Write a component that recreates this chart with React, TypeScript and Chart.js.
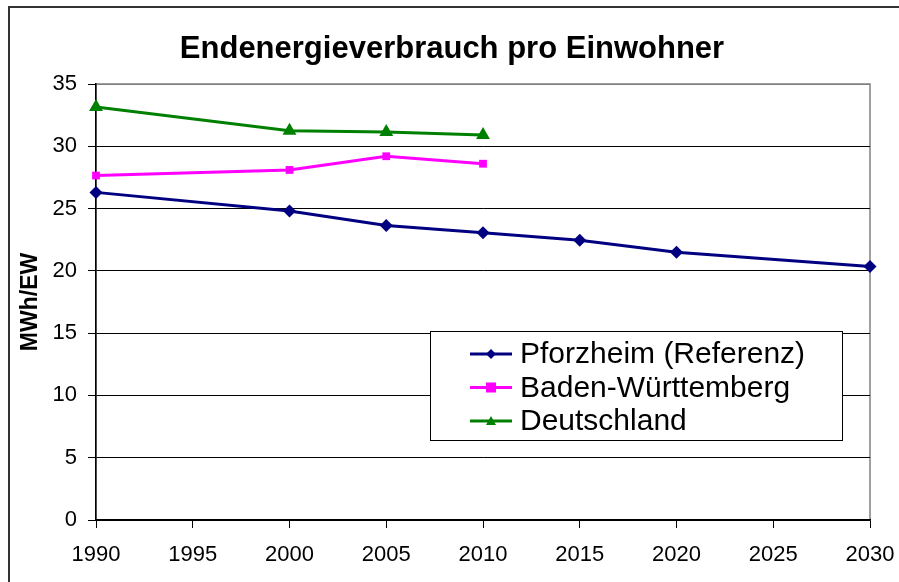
import React, { useEffect, useRef } from 'react';
import { Chart, registerables } from 'chart.js';

Chart.register(...registerables);

const chartTitle = 'Endenergieverbrauch pro Einwohner';
const yAxisTitle = 'MWh/EW';
const yearsPforzheim = [1990, 2000, 2005, 2010, 2015, 2020, 2030];
const pforzheim = [26.3, 24.8, 23.65, 23.05, 22.45, 21.5, 20.35];
const yearsRegion = [1990, 2000, 2005, 2010];
const badenWuerttemberg = [27.65, 28.1, 29.2, 28.6];
const deutschland = [33.15, 31.25, 31.15, 30.9];
const seriesLabels = ['Pforzheim (Referenz)', 'Baden-Württemberg', 'Deutschland'];
const seriesColors = ['#000080', '#FF00FF', '#008000'];
const seriesMarkers = ['rectRot', 'rect', 'triangle'];
const xMin = 1990;
const xMax = 2030;
const xStep = 5;
const yMin = 0;
const yMax = 35;
const yStep = 5;

const FONT = "'Liberation Sans', Arial, Helvetica, sans-serif";

function drawMarker(ctx: CanvasRenderingContext2D, kind: string, x: number, y: number, r: number, color: string) {
  ctx.save();
  ctx.fillStyle = color;
  ctx.beginPath();
  if (kind === 'rectRot') {
    ctx.moveTo(x, y - r);
    ctx.lineTo(x + r, y);
    ctx.lineTo(x, y + r);
    ctx.lineTo(x - r, y);
  } else if (kind === 'rect') {
    ctx.rect(x - r, y - r, 2 * r, 2 * r);
  } else {
    ctx.moveTo(x, y - r);
    ctx.lineTo(x + r, y + r * 0.8);
    ctx.lineTo(x - r, y + r * 0.8);
  }
  ctx.closePath();
  ctx.fill();
  ctx.restore();
}

const decorPlugin = {
  id: 'decor',
  beforeDraw(chart: any) {
    const ctx = chart.ctx as CanvasRenderingContext2D;
    const { left, right, top, bottom } = chart.chartArea;
    ctx.save();
    ctx.fillStyle = '#ffffff';
    ctx.fillRect(0, 0, chart.width, chart.height);
    // outer chart border
    ctx.fillStyle = '#333333';
    ctx.fillRect(8, 6, 2, chart.height);
    ctx.fillRect(8, 6, chart.width, 2);
    // plot area border
    ctx.strokeStyle = '#808080';
    ctx.lineWidth = 1.5;
    ctx.strokeRect(left, top, right - left, bottom - top);
    ctx.restore();
  },
  afterDraw(chart: any) {
    const ctx = chart.ctx as CanvasRenderingContext2D;
    const { top, bottom } = chart.chartArea;
    ctx.save();
    // title
    ctx.fillStyle = '#000';
    ctx.font = `bold 31px ${FONT}`;
    ctx.textAlign = 'center';
    ctx.textBaseline = 'alphabetic';
    ctx.fillText(chartTitle, 452, 58);
    // y axis title
    ctx.save();
    ctx.translate(37, (top + bottom) / 2);
    ctx.rotate(-Math.PI / 2);
    ctx.font = `bold 23px ${FONT}`;
    ctx.textAlign = 'center';
    ctx.textBaseline = 'alphabetic';
    ctx.fillText(yAxisTitle, 0, 0);
    ctx.restore();
    // legend
    const bx = 430, by = 331, bw = 412, bh = 109;
    ctx.fillStyle = '#fff';
    ctx.fillRect(bx, by, bw, bh);
    ctx.strokeStyle = '#000';
    ctx.lineWidth = 1;
    ctx.strokeRect(bx + 0.5, by + 0.5, bw, bh);
    ctx.font = `30px ${FONT}`;
    ctx.textAlign = 'left';
    ctx.textBaseline = 'middle';
    seriesLabels.forEach((label, i) => {
      const y = 354 + i * 33.5;
      ctx.strokeStyle = seriesColors[i];
      ctx.lineWidth = 3;
      ctx.beginPath();
      ctx.moveTo(470, y);
      ctx.lineTo(512, y);
      ctx.stroke();
      drawMarker(ctx, seriesMarkers[i], 491, y, 5, seriesColors[i]);
      ctx.fillStyle = '#000';
      ctx.fillText(label, 520, y + 1);
    });
    ctx.restore();
  },
};

export default function App() {
  const canvasRef = useRef<HTMLCanvasElement | null>(null);

  useEffect(() => {
    const canvas = canvasRef.current;
    if (!canvas) return;
    const toPoints = (xs: number[], ys: number[]) => xs.map((x, i) => ({ x, y: ys[i] }));
    const seriesData = [
      toPoints(yearsPforzheim, pforzheim),
      toPoints(yearsRegion, badenWuerttemberg),
      toPoints(yearsRegion, deutschland),
    ];
    const radii = [6.5, 5.5, 8];
    const chart = new Chart(canvas, {
      type: 'line',
      data: {
        datasets: seriesData.map((d, i) => ({
          label: seriesLabels[i],
          data: d,
          borderColor: seriesColors[i],
          backgroundColor: seriesColors[i],
          borderWidth: 3,
          pointStyle: seriesMarkers[i] as any,
          pointRadius: radii[i],
          pointBorderWidth: 0,
          pointBackgroundColor: seriesColors[i],
          tension: 0,
          clip: false as any,
        })),
      },
      options: {
        animation: false,
        responsive: false,
        devicePixelRatio: 1,
        layout: { padding: { left: 0, top: 84, right: 29, bottom: 0 } },
        plugins: {
          legend: { display: false },
          title: { display: false },
          tooltip: { enabled: false },
        },
        scales: {
          x: {
            type: 'linear',
            min: xMin,
            max: xMax,
            ticks: {
              stepSize: xStep,
              color: '#000',
              font: { family: FONT, size: 22 },
              padding: 14,
              maxRotation: 0,
              callback: (v: any) => String(v),
            },
            grid: {
              drawOnChartArea: false,
              drawTicks: true,
              tickLength: 8,
              tickColor: '#000',
            },
            border: { color: '#000', width: 1.5 },
            afterFit: (s: any) => { s.height = 62; s.paddingLeft = 0; s.paddingRight = 0; },
          },
          y: {
            type: 'linear',
            min: yMin,
            max: yMax,
            ticks: {
              stepSize: yStep,
              color: '#000',
              font: { family: FONT, size: 22 },
              padding: 11,
            },
            grid: {
              color: (c: any) => (c.tick && c.tick.value === yMax ? '#808080' : '#000'),
              lineWidth: 1,
              drawTicks: true,
              tickLength: 8,
              tickColor: '#000',
            },
            border: { color: '#000', width: 1.5 },
            afterFit: (s: any) => { s.width = 96; s.paddingTop = 0; s.paddingBottom = 0; },
          },
        },
      },
      plugins: [decorPlugin],
    });
    return () => chart.destroy();
  }, []);

  return (
    <canvas
      ref={canvasRef}
      width={899}
      height={582}
      style={{ position: 'absolute', left: 0, top: 0, display: 'block', width: 899, height: 582 }}
    />
  );
}
